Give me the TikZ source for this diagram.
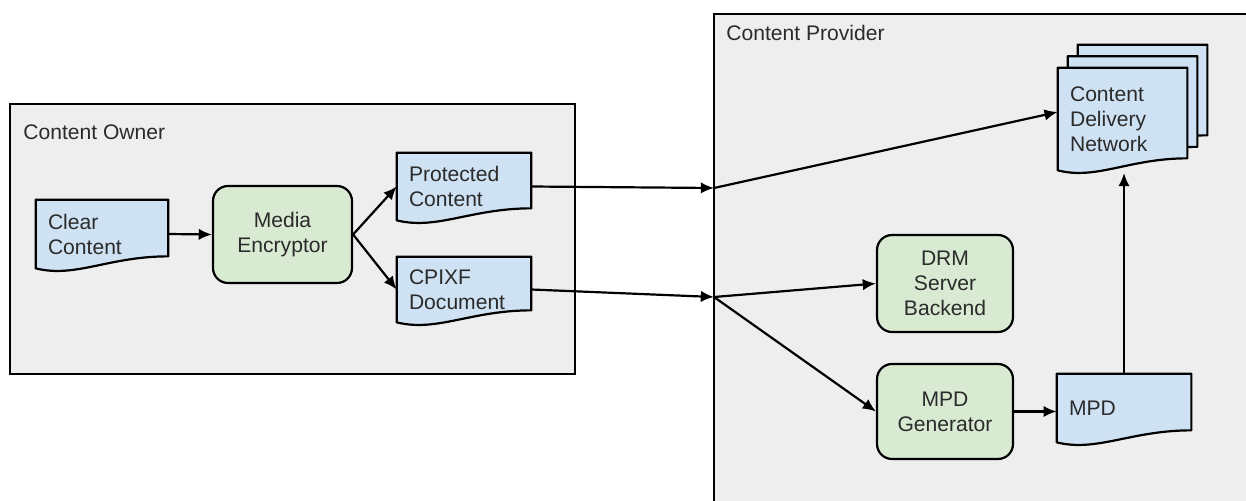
\documentclass[tikz,border=0pt]{standalone}
\usepackage{fontspec}
\setmainfont{Liberation Sans}
\usetikzlibrary{arrows.meta,calc}
\pgfdeclarelayer{bottom}
\pgfdeclarelayer{back}
\pgfsetlayers{bottom,back,main}
\definecolor{boxgray}{HTML}{EEEEEE}
\definecolor{docblue}{HTML}{CFE2F3}
\definecolor{procgreen}{HTML}{D9EAD3}
\definecolor{txt}{HTML}{2B2B2B}
\tikzset{
 every node/.style={font=\fontsize{12}{14.2}\selectfont, text=txt},
 container/.style={draw=black, line width=1pt, fill=boxgray, inner sep=0pt, outer sep=0pt, anchor=north west},
 doc/.style={draw=none, inner xsep=0.24cm, inner ysep=0pt, align=left},
 docline/.style={draw=black, line width=1.25pt, fill=docblue, line join=round},
 proc/.style={draw=black, line width=1.25pt, fill=procgreen, rounded corners=0.3cm, align=center, inner sep=0pt},
 arr/.style={draw=black, line width=1.25pt, -{Latex[length=7.5pt,width=6.5pt]}},
 lbl/.style={anchor=base west, inner sep=0pt},
}
\newcommand\docshape[2][0,0]{%
 \begin{pgfonlayer}{back}
 \path[docline] ([shift={(#1)}]#2.north west) -- ([shift={(#1)}]#2.north east)
   -- ($([shift={(#1)}]#2.south east)+(0,-12)$)
   .. controls ($([shift={(#1)}]#2.south west)!0.55!([shift={(#1)}]#2.south east)+(0,-12)$)
   and ($([shift={(#1)}]#2.south west)!0.3!([shift={(#1)}]#2.south east)+(0,10)$)
   .. ([shift={(#1)}]#2.south west) -- cycle;
 \end{pgfonlayer}}
\begin{document}
\begin{tikzpicture}[x=0.02cm, y=-0.02cm]
\useasboundingbox (0,0) rectangle (1246,500);
\begin{pgfonlayer}{bottom}
\node[container, minimum width=11.3cm, minimum height=5.4cm] (owner) at (10,104) {};
\node[container, minimum width=11.12cm, minimum height=10.12cm] (provider) at (714,14) {};
\end{pgfonlayer}
\node[lbl] (ownerlbl) at (23,139) {Content Owner};
\node[lbl] (providerlbl) at (726,41) {Content Provider};

% documents
\node[doc, minimum width=2.64cm, minimum height=1.36cm, text width=2.16cm] (cc) at (102,234) {Clear\\Content};
\node[doc, minimum width=2.68cm, minimum height=1.34cm, text width=2.2cm] (pc) at (464,186.5) {Protected\\Content};
\node[doc, minimum width=2.68cm, minimum height=1.30cm, text width=2.2cm] (cpixf) at (464,289.5) {CPIXF\\Document};
\node[doc, minimum width=2.58cm, minimum height=2.04cm, text width=2.1cm] (cdn) at (1122.5,119) {Content\\Delivery\\Network};
\node[doc, minimum width=2.68cm, minimum height=1.36cm, text width=2.2cm] (mpd) at (1124,408) {MPD};
\docshape{cc}
\docshape{pc}
\docshape{cpixf}
\docshape[20,-23]{cdn}
\docshape[10,-11.5]{cdn}
\docshape{cdn}
\docshape{mpd}

% processes
\node[proc, minimum width=2.78cm, minimum height=1.94cm] (me) at (282.5,234.5) {Media\\Encryptor};
\node[proc, minimum width=2.72cm, minimum height=1.94cm] (drm) at (945,283.5) {DRM\\Server\\Backend};
\node[proc, minimum width=2.72cm, minimum height=1.90cm] (mg) at (945,411.5) {MPD\\Generator};

% junctions
\coordinate (p1) at (714,188);
\coordinate (p2) at (714,297);
\coordinate (cdnb) at (1123,173);

% connectors
\draw[arr] (cc.east) -- (me.west);
\draw[arr] (me.east) -- (pc.west);
\draw[arr] (me.east) -- (cpixf.west);
\draw[arr] (pc.east) -- (p1);
\draw[arr] (cpixf.east) -- (p2);
\draw[arr] (p1) -- ([yshift=0.14cm]cdn.west);
\draw[arr] (p2) -- (drm.west);
\draw[arr] (p2) -- (mg.west);
\draw[arr] (mg.east) -- (mg.east -| mpd.west);
\draw[arr] (mpd.north) -- (mpd.north |- cdnb);
\end{tikzpicture}
\end{document}
